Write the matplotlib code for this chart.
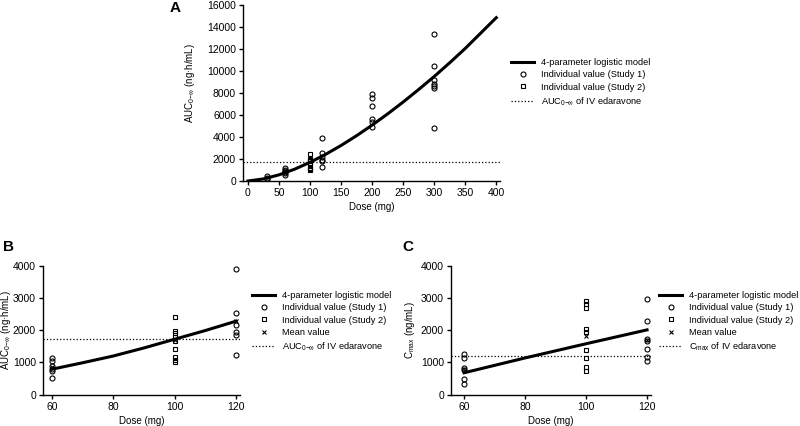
import numpy as np
import matplotlib.pyplot as plt
from matplotlib.lines import Line2D

plt.rcParams["font.family"] = ["Liberation Sans", "DejaVu Sans"]
plt.rcParams["mathtext.fontset"] = "custom"
plt.rcParams["mathtext.rm"] = "Liberation Sans"
plt.rcParams["mathtext.it"] = "Liberation Sans:italic"
plt.rcParams["font.size"] = 7

# ---- panel A: AUC over all doses ----
a_curve_dose = [0, 25, 50, 75, 100, 125, 150, 175, 200, 225, 250, 275, 300, 325, 350, 375, 400]
a_curve_auc = [0, 190, 560, 1070, 1700, 2420, 3230, 4120, 5080, 6100, 7180, 8320, 9500,
               10750, 12050, 13450, 14850]
a_s1_dose = [30, 30, 30, 60, 60, 60, 60, 60, 60, 120, 120, 120, 120, 120, 120,
             200, 200, 200, 200, 200, 200, 300, 300, 300, 300, 300, 300, 300]
a_s1_auc = [450, 300, 200, 1150, 1040, 890, 810, 730, 510, 3890, 2540, 2160, 1950, 1850, 1230,
            7950, 7550, 6850, 5650, 5350, 4900, 13400, 10450, 9150, 8850, 8650, 8450, 4850]
a_s2_dose = [100] * 9
a_s2_auc = [2420, 1980, 1900, 1800, 1660, 1410, 1160, 1070, 1020]
iv_auc = 1740

# ---- panel B: AUC, 60-120 mg ----
b_curve_dose = [60, 70, 80, 90, 100, 110, 120]
b_curve_auc = [790, 990, 1200, 1450, 1720, 1990, 2280]
b_s1_dose = [60] * 6 + [120] * 6
b_s1_auc = [1150, 1040, 890, 810, 730, 510, 3890, 2540, 2160, 1950, 1850, 1230]
b_s2_dose = a_s2_dose
b_s2_auc = a_s2_auc
b_mean_dose = [60, 100, 120]
b_mean_auc = [860, 1700, 2280]

# ---- panel C: Cmax, 60-120 mg ----
c_curve_dose = [60, 80, 100, 120]
c_curve_cmax = [680, 1140, 1580, 2010]
c_s1_dose = [60] * 6 + [120] * 7
c_s1_cmax = [1250, 1130, 840, 770, 480, 320, 2960, 2270, 1720, 1670, 1410, 1180, 1030]
c_s2_dose = [100] * 9
c_s2_cmax = [2910, 2800, 2680, 2030, 1930, 1390, 1150, 870, 740]
c_mean_dose = [60, 100, 120]
c_mean_cmax = [790, 1830, 1700]
iv_cmax = 1210

auc_label = r"AUC$_{0\mathrm{-}\infty}$"


def style(ax):
    for s in ["top", "right"]:
        ax.spines[s].set_visible(False)
    for s in ["left", "bottom"]:
        ax.spines[s].set_linewidth(1.0)
    ax.tick_params(direction="out", length=3, width=1.0, pad=2, labelsize=7.5)


def legend_handles(iv_text, with_mean):
    h = [Line2D([], [], color="black", lw=2.2),
         Line2D([], [], ls="none", marker="o", mfc="none", mec="black", ms=3.6, mew=0.8),
         Line2D([], [], ls="none", marker="s", mfc="none", mec="black", ms=3.4, mew=0.8)]
    labels = ["4-parameter logistic model", "Individual value (Study 1)", "Individual value (Study 2)"]
    if with_mean:
        h.append(Line2D([], [], ls="none", marker="x", color="black", ms=3.4, mew=0.8))
        labels.append("Mean value")
    h.append(Line2D([], [], color="black", ls=":", lw=0.9))
    labels.append(iv_text)
    return h, labels


def draw(ax, cd, cv, s1d, s1v, s2d, s2v, iv, xlim, md=None, mv=None):
    ax.plot(cd, cv, color="black", lw=2.2, zorder=3)
    ax.plot(s1d, s1v, ls="none", marker="o", mfc="none", mec="black", ms=3.6, mew=0.8)
    ax.plot(s2d, s2v, ls="none", marker="s", mfc="none", mec="black", ms=3.4, mew=0.8)
    if md is not None:
        ax.plot(md, mv, ls="none", marker="x", color="black", ms=3.4, mew=0.8, zorder=4)
    ax.plot([xlim[0], xlim[1]], [iv, iv], color="black", ls=":", lw=0.9)
    ax.set_xlim(*xlim)


fig = plt.figure(figsize=(8, 4.26), dpi=100)

axA = fig.add_axes([243 / 800, 1 - 181 / 426, 257 / 800, 176 / 426])
draw(axA, a_curve_dose, a_curve_auc, a_s1_dose, a_s1_auc, a_s2_dose, a_s2_auc, iv_auc, (-8, 406))
axA.set_ylim(0, 16000)
axA.set_xticks(np.arange(0, 401, 50))
axA.set_yticks(np.arange(0, 16001, 2000))
axA.set_xlabel("Dose (mg)", labelpad=3)
axA.set_ylabel(auc_label + " (ng·h/mL)")
axA.yaxis.set_label_coords(-0.18, 0.557)
style(axA)

axB = fig.add_axes([43 / 800, 1 - 394.7 / 426, 197 / 800, 129 / 426])
draw(axB, b_curve_dose, b_curve_auc, b_s1_dose, b_s1_auc, b_s2_dose, b_s2_auc, iv_auc,
     (57.1, 121.3), b_mean_dose, b_mean_auc)
axB.set_ylim(0, 4000)
axB.set_xticks([60, 80, 100, 120])
axB.set_yticks(np.arange(0, 4001, 1000))
axB.set_xlabel("Dose (mg)", labelpad=3)
axB.set_ylabel(auc_label + " (ng·h/mL)")
axB.yaxis.set_label_coords(-0.152, 0.5)
style(axB)

axC = fig.add_axes([451 / 800, 1 - 394.7 / 426, 200 / 800, 129 / 426])
draw(axC, c_curve_dose, c_curve_cmax, c_s1_dose, c_s1_cmax, c_s2_dose, c_s2_cmax, iv_cmax,
     (55.7, 121.3), c_mean_dose, c_mean_cmax)
axC.set_ylim(0, 4000)
axC.set_xticks([60, 80, 100, 120])
axC.set_yticks(np.arange(0, 4001, 1000))
axC.set_xlabel("Dose (mg)", labelpad=3)
axC.set_ylabel(r"C$_{\mathrm{max}}$ (ng/mL)")
axC.yaxis.set_label_coords(-0.17, 0.5)
style(axC)

legkw = dict(loc="upper left", frameon=False, borderpad=0, borderaxespad=0,
             handlelength=2.5, handletextpad=0.7, labelspacing=0.36, fontsize=6.7)
h, l = legend_handles(auc_label + " of IV edaravone", False)
fig.legend(h, l, bbox_to_anchor=(511 / 800, 1 - 58 / 426), **legkw)
h, l = legend_handles(auc_label + " of IV edaravone", True)
fig.legend(h, l, bbox_to_anchor=(252 / 800, 1 - 291 / 426), **legkw)
h, l = legend_handles(r"C$_{\mathrm{max}}$ of IV edaravone", True)
fig.legend(h, l, bbox_to_anchor=(659 / 800, 1 - 291 / 426), **legkw)

fig.text(175 / 800, 1 - 8 / 426, "A", fontsize=11, fontweight="bold", ha="center", va="center")
fig.text(8 / 800, 1 - 247 / 426, "B", fontsize=11, fontweight="bold", ha="center", va="center")
fig.text(408 / 800, 1 - 247 / 426, "C", fontsize=11, fontweight="bold", ha="center", va="center")

fig.savefig("out.png", dpi=100)
